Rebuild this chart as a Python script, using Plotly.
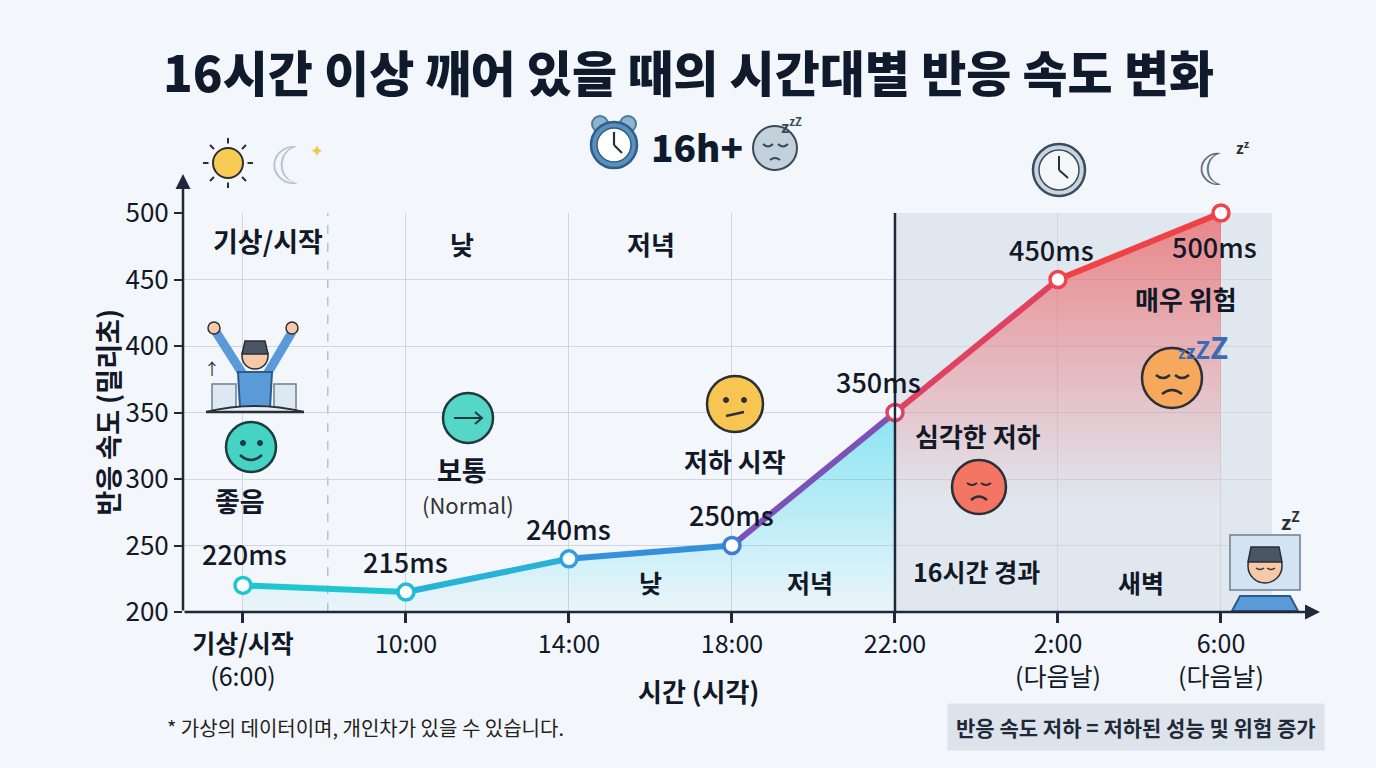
"""16시간 이상 깨어 있을 때의 시간대별 반응 속도 변화 (Plotly 재현)."""
import plotly.graph_objects as go

# 데이터
time_labels = [
    "<b>기상/시작</b><br>(6:00)", "10:00", "14:00", "18:00", "22:00",
    "2:00<br>(다음날)", "6:00<br>(다음날)",
]
reaction_ms = [220, 215, 240, 250, 350, 450, 500]
seg_colors = ["#1fc6cf", "#27b2d6", "#3490da", "#7c52b8", "#df4160", "#ee4246"]
point_colors = ["#20c6cf", "#22bcd5", "#2fa0dc", "#3b7fd8", "#d94468", "#ef4352", "#ef4448"]
y_ticks = [200, 250, 300, 350, 400, 450, 500]

FONT = "Noto Sans CJK KR"
INK = "#111827"
BG = "#f3f6fa"

# 픽셀 -> paper 좌표 변환 (1376x768, 고정 margin)
W, H = 1376, 768
L, R, T, B = 183, 104, 213, 156
PW, PH = W - L - R, H - T - B


def px(x):
    return (x - L) / PW


def py(y):
    return (H - B - y) / PH


def circle(cx, cy, r, fill, line="#2b2f36", lw=2.5):
    return dict(type="circle", xref="paper", yref="paper", layer="above",
                x0=px(cx - r), x1=px(cx + r), y0=py(cy + r), y1=py(cy - r),
                fillcolor=fill, line=dict(color=line, width=lw))


def path(points, color="#2b2f36", lw=2.5, fill=None, close=False, curve=False):
    if curve:
        (x0, y0), (cx, cy), (x1, y1) = points
        d = f"M {px(x0)} {py(y0)} Q {px(cx)} {py(cy)} {px(x1)} {py(y1)}"
    else:
        d = "M " + " L ".join(f"{px(a)} {py(b)}" for a, b in points)
    if close:
        d += " Z"
    return dict(type="path", xref="paper", yref="paper", layer="above", path=d,
                line=dict(color=color, width=lw), fillcolor=fill or "rgba(0,0,0,0)")


def text(x, y, s, size=20, bold=False, color=INK, weight=None, **kw):
    kw.setdefault("xanchor", "center")
    kw.setdefault("yanchor", "middle")
    font = dict(family=FONT, size=size, color=color)
    if weight:
        font["weight"] = weight
    return dict(x=px(x), y=py(y), xref="paper", yref="paper",
                text=f"<b>{s}</b>" if bold else s, showarrow=False, font=font, **kw)


xs = list(range(len(reaction_ms)))
fig = go.Figure()

# 채움 (청록 / 빨강 그라데이션)
fig.add_trace(go.Scatter(
    x=xs[:5], y=reaction_ms[:5], mode="none", fill="tozeroy", hoverinfo="skip",
    fillgradient=dict(type="vertical", start=200, stop=350,
                      colorscale=[[0, "rgba(34,211,238,0.04)"], [1, "rgba(34,211,238,0.5)"]]),
))
fig.add_trace(go.Scatter(
    x=xs[4:], y=reaction_ms[4:], mode="none", fill="tozeroy", hoverinfo="skip",
    fillgradient=dict(type="vertical", start=280, stop=500,
                      colorscale=[[0, "rgba(239,68,68,0)"], [1, "rgba(239,68,68,0.6)"]]),
))

# 선 구간별 색
for i, c in enumerate(seg_colors):
    fig.add_trace(go.Scatter(
        x=xs[i:i + 2], y=reaction_ms[i:i + 2], mode="lines", hoverinfo="skip",
        line=dict(color=c, width=6), cliponaxis=False,
    ))

fig.add_trace(go.Scatter(
    x=xs, y=reaction_ms, mode="markers", hoverinfo="skip", cliponaxis=False,
    marker=dict(size=16, color="white", line=dict(color=point_colors, width=3.5)),
))

shapes = [
    # 16시간 경과 이후 음영
    dict(type="rect", xref="x", yref="y", x0=4, x1=6.313, y0=200, y1=500, layer="below",
         fillcolor="rgba(203,212,226,0.45)", line=dict(width=0)),
    dict(type="line", xref="x", yref="y", x0=4, x1=4, y0=200, y1=500,
         line=dict(color="#1e293b", width=2.5)),
    dict(type="line", xref="x", yref="y", x0=0.52, x1=0.52, y0=200, y1=500,
         line=dict(color="#b9c2ce", width=1.5, dash="dash"), layer="below"),
]

# --- 아이콘 (단순화) ---
# 해
shapes += [circle(228, 163, 15, "#f8cb55", "#2b2f36", 2)]
for dx, dy in [(0, -25), (0, 25), (-25, 0), (25, 0), (18, 18), (-18, -18), (18, -18), (-18, 18)]:
    shapes.append(path([(228 + dx * 0.78, 163 + dy * 0.78), (228 + dx, 163 + dy)], lw=2))
# 알람 시계
shapes += [
    circle(600, 124, 8, "#8fb3d0", "#4d7aa0", 2), circle(628, 124, 8, "#8fb3d0", "#4d7aa0", 2),
    circle(614, 145, 23, "#5b8fbd", "#2f5f88", 2.5), circle(614, 145, 17, "white", "#2f5f88", 1.5),
    path([(614, 145), (614, 132)], lw=2.2), path([(614, 145), (622, 153)], lw=2.2),
]
# 졸린 얼굴 (부제)
shapes += [
    circle(775, 148, 22, "#c3d1dd", "#3a4a5a", 2),
    path([(763, 144), (768, 149), (773, 144)], "#3a4a5a", 2, curve=True),
    path([(778, 144), (783, 149), (788, 144)], "#3a4a5a", 2, curve=True),
    path([(770, 160), (775, 156), (780, 160)], "#3a4a5a", 2, curve=True),
]
# 시계
shapes += [
    circle(1059, 170, 26, "#c9d6e2", "#3b4c5c", 2.5), circle(1059, 170, 20, "#f4f7fa", "#3b4c5c", 1.5),
    path([(1059, 170), (1059, 156)], lw=2), path([(1059, 170), (1068, 178)], lw=2),
]
# 웃는 얼굴
shapes += [
    circle(251, 447, 25, "#45d3c4", "#1f3b3f", 2.5),
    circle(243, 443, 2.5, "#1f3b3f", "#1f3b3f", 1), circle(260, 443, 2.5, "#1f3b3f", "#1f3b3f", 1),
    path([(240, 455), (251, 465), (262, 455)], "#1f3b3f", 2.5, curve=True),
]
# 보통 (화살표)
shapes += [
    circle(468, 418, 25, "#56d6c6", "#1f3b3f", 2.5),
    path([(454, 418), (482, 418)], "#1f3b3f", 2), path([(475, 412), (482, 418), (475, 424)], "#1f3b3f", 2),
]
# 저하 시작 (갸우뚱)
shapes += [
    circle(735, 404, 28, "#f6c552", "#2b2f36", 2.5),
    circle(726, 400, 2.5, "#2b2f36", "#2b2f36", 1), circle(744, 400, 2.5, "#2b2f36", "#2b2f36", 1),
    path([(726, 416), (744, 412)], "#2b2f36", 2.5),
]
# 심각한 저하 (빨강)
shapes += [
    circle(979, 487, 27, "#f47563", "#2b2f36", 2.5),
    path([(967, 483), (972, 487), (977, 483)], "#2b2f36", 2, curve=True),
    path([(981, 483), (986, 487), (991, 483)], "#2b2f36", 2, curve=True),
    path([(971, 500), (979, 493), (987, 500)], "#2b2f36", 2.5, curve=True),
]
# 매우 위험 (피곤)
shapes += [
    circle(1172, 378, 30, "#f6a85c", "#2b2f36", 2.5),
    path([(1156, 375), (1163, 381), (1170, 375)], "#2b2f36", 2.5, curve=True),
    path([(1175, 375), (1182, 381), (1189, 375)], "#2b2f36", 2.5, curve=True),
    path([(1162, 394), (1172, 386), (1182, 394)], "#2b2f36", 2.5, curve=True),
]
# 기지개 켜는 사람
shapes += [
    path([(212, 410), (212, 384), (236, 384), (236, 410)], "#6b7f95", 1.5, "#dde8f3", close=True),
    path([(274, 410), (274, 384), (296, 384), (296, 410)], "#6b7f95", 1.5, "#dde8f3", close=True),
    path([(244, 376), (216, 332)], "#5b9ad8", 9), path([(266, 376), (292, 332)], "#5b9ad8", 9),
    path([(238, 372), (240, 408), (270, 408), (272, 372)], "#2c5a8a", 2, "#5b9ad8", close=True),
    circle(214, 328, 6, "#f7c9a8", "#2b2f36", 1.5), circle(292, 328, 6, "#f7c9a8", "#2b2f36", 1.5),
    circle(255, 356, 13, "#f7c9a8", "#2b2f36", 1.5),
    path([(242, 354), (245, 341), (265, 341), (268, 354)], "#2b2f36", 1.5, "#4a5565", close=True),
    path([(206, 412), (255, 400), (304, 412)], "#2b2f36", 2, "#e6eef7", curve=True),
    path([(206, 412), (304, 412)], "#2b2f36", 2.5),
]
# 잠든 사람
shapes += [
    path([(1230, 535), (1300, 535), (1300, 590), (1230, 590)], "#6b7f95", 1.5, "#d4e3f2", close=True),
    path([(1232, 611), (1240, 596), (1290, 596), (1298, 611)], "#2c5a8a", 2, "#5b9ad8", close=True),
    circle(1265, 566, 17, "#f7c9a8", "#2b2f36", 1.5),
    path([(1248, 562), (1251, 547), (1279, 547), (1282, 562)], "#2b2f36", 1.5, "#4a5565", close=True),
    path([(1256, 568), (1260, 571), (1264, 568)], "#2b2f36", 1.5, curve=True),
    path([(1267, 568), (1271, 571), (1275, 568)], "#2b2f36", 1.5, curve=True),
]
# 축 화살표는 annotation 으로
annotations = [
    dict(x=0, y=py(174), xref="paper", yref="paper", ax=0, ay=438, text="", showarrow=True,
         arrowhead=2, arrowsize=1.2, arrowwidth=2.5, arrowcolor="#1e293b"),
    dict(x=px(1320), y=0, xref="paper", yref="paper", ax=-1137, ay=0, text="", showarrow=True,
         arrowhead=2, arrowsize=1.2, arrowwidth=2.5, arrowcolor="#1e293b"),
]

# 값 라벨
label_shift = [(2, 32), (0, 31), (0, 30), (0, 31), (-16, 31), (-6, 30), (-6, -33)]
for x, v, (dx, dy) in zip(xs, reaction_ms, label_shift):
    annotations.append(dict(x=x, y=v, xref="x", yref="y", text=f"{v}ms", showarrow=False,
                            xshift=dx, yshift=dy,
                            font=dict(family=FONT, size=27, color=INK, weight=500)))

zzz = ("<span style='font-size:15px'>z</span><span style='font-size:19px'>z</span>"
       "<span style='font-size:24px'>Z</span><span style='font-size:30px'>Z</span>")
annotations += [
    text(688, 70, "16시간 이상 깨어 있을 때의 시간대별 반응 속도 변화", 49, False, "#0f1b2d", 900),
    text(697, 146, "16h+", 37, False, "#0f1b2d", 900),
    text(791, 126, "z<sup>z</sup><sup>Z</sup>", 16, True, "#3a4a5a"),
    text(292, 162, "☾", 52, False, "#b4c4d6"),
    text(317, 150, "✦", 17, False, "#f2c94c"),
    text(1216, 166, "☾", 44, False, "#5b6b7e"),
    text(1243, 147, "z<sup>z</sup>", 15, True, "#2b2f36"),
    text(1203, 346, zzz, 24, True, "#3b6cb3"),
    text(1290, 521, "z<sup>Z</sup>", 20, True, "#2b2f36"),
    text(212, 368, "↑", 16, False, "#2b2f36"),
    text(268, 240, "기상/시작", 27, True),
    text(462, 243, "낮", 26, True),
    text(651, 243, "저녁", 26, True),
    text(240, 500, "좋음", 27, True),
    text(468, 504, "(Normal)", 22, False, "#333"),
    text(462, 469, "보통", 27, True, bgcolor=BG, borderpad=0),
    text(735, 460, "저하 시작", 26, True),
    text(978, 435, "심각한 저하", 26, True),
    text(1186, 298, "매우 위험", 26, True),
    text(650, 582, "낮", 25, True),
    text(810, 582, "저녁", 25, True),
    text(976, 571, "16시간 경과", 25, True),
    text(1141, 582, "새벽", 25, True),
    dict(x=px(85), y=py(412), xref="paper", yref="paper", text="<b>반응 속도 (밀리초)</b>",
         textangle=-90, showarrow=False, font=dict(family=FONT, size=27, color=INK)),
    text(698, 690, "시간 (시각)", 26, True),
    text(165, 727, "* 가상의 데이터이며, 개인차가 있을 수 있습니다.", 20, False, "#222",
         xanchor="left"),
    text(1136, 727, "반응 속도 저하 = 저하된 성능 및 위험 증가", 21, True, "#1f2937",
         bgcolor="#dde3eb", borderpad=8),
]

fig.update_layout(
    width=W, height=H, autosize=False,
    margin=dict(l=L, r=R, t=T, b=B),
    paper_bgcolor=BG, plot_bgcolor=BG,
    showlegend=False,
    font=dict(family=FONT, color=INK),
    shapes=shapes, annotations=annotations,
)
fig.update_xaxes(
    range=[-0.368, 6.313], tickvals=xs, ticktext=time_labels,
    showgrid=True, gridcolor="#cfd6e0", gridwidth=1, zeroline=False,
    showline=False, ticks="outside", ticklen=10, tickwidth=2.5, tickcolor="#1e293b",
    tickfont=dict(family=FONT, size=25, color=INK),
)
fig.update_yaxes(
    range=[200, 500], tickvals=y_ticks,
    showgrid=True, gridcolor="#cfd6e0", gridwidth=1, zeroline=False,
    showline=False, ticks="outside", ticklen=8, tickwidth=2, tickcolor="#1e293b",
    tickfont=dict(family=FONT, size=26, color=INK),
)

# 페이지 기본 여백 제거, 툴바 숨김
fig.write_html("out.html", config={"displayModeBar": False},
               post_script="document.body.style.margin='0';"
                           f"document.body.style.background='{BG}';")
